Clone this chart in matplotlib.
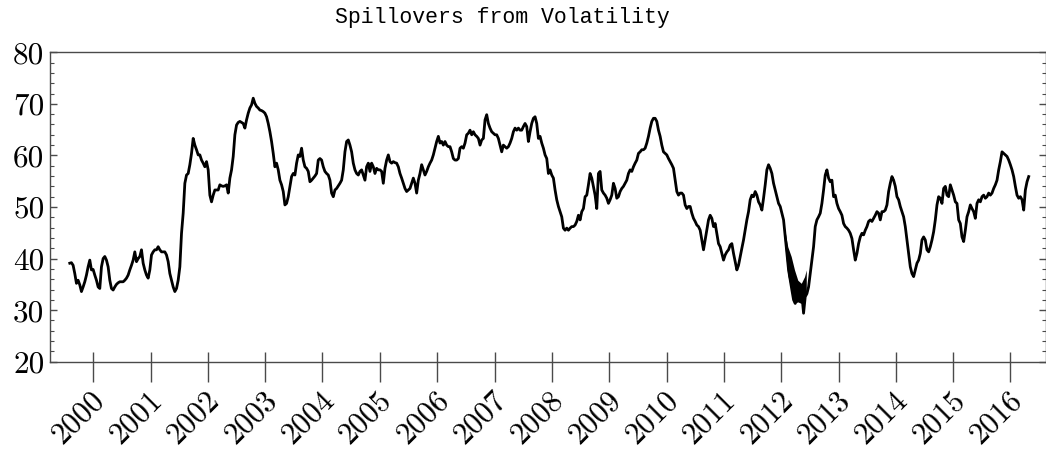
import numpy as np
import pandas as pd
import matplotlib
matplotlib.use("Agg")
import matplotlib.pyplot as plt
import matplotlib.dates as mdates
from matplotlib.transforms import ScaledTranslation

# ---- data ----
title = "Spillovers from Volatility"
start_date = "1999-08-05"
end_date = "2016-04-26"
spill_1999_2008 = [
    39.1, 39.2, 38.7, 37.1, 35.2, 35.8, 34.9, 33.6, 34.5, 35.5, 36.8, 38.4, 39.7, 37.8, 37.9, 36.8,
    35.8, 34.5, 34.2, 38.4, 40.0, 40.4, 39.7, 38.4, 35.8, 34.2, 33.9, 34.5, 35.0, 35.3, 35.5, 35.5,
    35.5, 35.8, 36.2, 36.8, 37.8, 38.7, 39.7, 41.3, 39.4, 40.0, 40.4, 41.7, 39.1, 37.8, 36.8, 36.2,
    37.8, 40.7, 41.3, 41.7, 41.7, 42.3, 41.7, 41.3, 41.3, 41.3, 40.7, 39.4, 37.1, 35.8, 34.5, 33.6,
    34.2, 35.8, 38.4, 44.9, 48.8, 54.6, 56.2, 56.5, 58.2, 60.4, 63.3, 62.0, 61.1, 60.1, 60.1, 59.1,
    58.5, 57.8, 58.8, 57.2, 52.3, 51.0, 52.3, 53.3, 53.3, 53.3, 54.3, 54.1, 54.0, 54.1, 54.3, 52.7,
    55.6, 57.2, 59.8, 64.0, 65.9, 66.4, 66.6, 66.4, 66.2, 65.3, 66.9, 68.2, 69.2, 69.8, 71.1, 70.1,
    69.5, 69.2, 68.8, 68.7, 68.5, 68.2, 67.5, 66.2, 64.6, 62.7, 60.4, 57.8, 58.5, 57.2, 55.2, 54.3,
    53.0, 50.4, 50.7, 52.0, 54.0, 55.9, 56.5, 56.2, 58.5, 60.1, 59.8, 61.4, 59.1, 57.8, 57.5, 56.9,
    54.9, 55.2, 55.6, 56.0, 56.5, 59.1, 59.4, 59.1, 57.8, 56.9, 56.5, 56.2, 55.2, 52.7, 52.0, 53.3,
    53.6, 54.1, 54.6, 55.2, 57.2, 60.7, 62.7, 63.0, 62.0, 60.7, 58.5, 57.2, 56.5, 56.2, 56.9, 57.2,
    56.2, 55.2, 57.8, 58.5, 56.9, 58.5, 57.8, 56.5, 57.5, 57.2, 57.2, 56.9, 54.6, 57.5, 59.1, 60.1,
    58.8, 58.5, 58.8, 58.6, 58.5, 57.8, 56.5, 55.6, 54.6, 53.6, 53.0, 53.3, 53.6, 54.6, 55.6, 54.6,
    52.7, 55.2, 56.5, 58.2, 57.2, 56.2, 56.9, 57.8, 58.5, 59.1, 60.1, 61.4, 62.7, 63.7, 62.4, 62.7,
    62.0, 62.7, 62.0, 61.7, 61.7, 60.7, 59.4, 59.1, 59.1, 59.4, 61.4, 61.7, 61.4, 62.4, 64.0, 64.3,
    64.9, 64.0, 64.6, 64.0, 63.7, 63.3, 62.0, 63.0, 63.3, 66.9, 67.9, 66.2, 65.3, 64.6, 64.3, 64.0,
    64.0, 63.3, 62.0, 60.7, 62.0, 61.7, 61.4, 61.7, 62.4, 63.3, 64.6, 65.3, 64.9, 65.3, 64.9, 64.9,
    65.6, 66.2, 65.6, 62.7, 64.6, 66.2, 67.2, 67.5, 66.2, 63.3, 63.7, 62.4, 61.4, 60.1, 59.4, 56.5,
    57.2,
]
spill_2008_2016 = [
    56.2, 55.6, 53.3, 51.4, 50.1, 49.1, 48.1, 45.9, 45.5, 45.9, 45.5, 45.9, 46.2, 46.2, 46.5, 47.2,
    48.4, 47.5, 49.1, 49.7, 52.0, 52.3, 54.3, 56.5, 55.6, 54.0, 52.3, 49.7, 56.5, 56.9, 53.3, 52.7,
    52.3, 51.7, 50.7, 51.4, 52.3, 54.6, 53.6, 51.7, 52.0, 53.0, 53.6, 54.0, 54.6, 55.2, 56.5, 57.2,
    56.9, 57.8, 58.5, 59.1, 60.4, 60.7, 61.1, 61.1, 61.4, 62.4, 63.7, 65.3, 66.6, 67.2, 67.2, 66.6,
    64.9, 63.7, 62.0, 60.7, 60.4, 60.1, 59.4, 58.8, 58.2, 57.5, 55.2, 53.0, 52.3, 52.7, 52.7, 52.3,
    50.4, 49.7, 50.1, 50.1, 48.8, 47.8, 47.2, 46.5, 46.2, 45.5, 43.6, 41.7, 43.6, 45.5, 47.5, 48.4,
    47.8, 46.2, 46.8, 44.9, 42.9, 42.3, 41.0, 39.7, 40.7, 41.3, 41.7, 42.6, 42.9, 41.0, 39.4, 37.8,
    38.7, 40.4, 42.0, 43.6, 45.5, 47.5, 49.1, 51.4, 52.3, 52.0, 53.0, 52.3, 51.0, 50.4, 49.4, 51.7,
    54.3, 57.2, 58.2, 57.5, 56.5, 54.6, 53.3, 52.0, 50.7, 50.1, 48.8, 47.5, 44.2, 41.0, 37.8, 35.8,
    33.9, 32.0, 31.3, 33.2, 32.0, 32.3, 32.9, 29.4, 32.6, 33.2, 34.5, 37.1, 39.7, 42.3, 46.2, 47.5,
    48.1, 48.8, 50.7, 53.3, 56.2, 57.2, 55.6, 54.9, 55.2, 52.0, 52.3, 50.7, 49.7, 49.1, 48.4, 46.8,
    46.2, 45.9, 45.5, 44.9, 43.9, 41.7, 39.7, 41.0, 42.9, 44.2, 44.9, 44.6, 45.5, 46.2, 47.2, 47.5,
    47.2, 47.8, 48.4, 49.1, 48.8, 47.5, 49.1, 49.1, 49.4, 50.4, 53.0, 54.6, 55.9, 55.2, 54.0, 52.0,
    51.4, 50.1, 49.1, 48.1, 46.2, 43.6, 41.0, 38.4, 37.1, 36.5, 37.8, 39.1, 39.7, 41.0, 43.6, 44.2,
    43.6, 41.7, 41.3, 42.3, 43.6, 45.2, 47.5, 50.4, 52.0, 51.7, 50.7, 53.6, 54.0, 52.3, 52.0, 54.3,
    53.3, 52.3, 51.0, 50.7, 47.5, 46.8, 44.2, 43.3, 45.5, 48.1, 49.1, 50.4, 49.7, 49.1, 47.8, 50.7,
    51.4, 51.0, 52.0, 52.3, 51.7, 52.0, 52.7, 52.3, 52.7, 53.6, 54.3, 55.2, 57.2, 58.8, 60.7, 60.4,
    60.1, 59.8, 59.1, 58.2, 57.2, 55.9, 54.0, 52.3, 51.7, 52.0, 51.4, 49.4, 53.3, 54.9, 55.9,
]
# 2012 high-frequency band (envelope of the rapidly oscillating line)
band_dates = ["2012-01-21", "2012-02-12", "2012-03-05", "2012-03-26",
              "2012-04-16", "2012-05-08", "2012-05-29", "2012-06-09"]
band_hi = [46.2, 42.3, 40.4, 37.8, 35.8, 35.2, 36.5, 37.8]
band_lo = [43.6, 36.8, 33.9, 31.3, 31.6, 31.3, 32.0, 33.6]
years = list(range(2000, 2017))
y_ticks = [20, 30, 40, 50, 60, 70, 80]

values = np.array(spill_1999_2008 + spill_2008_2016)
dates = pd.date_range(start_date, end_date, periods=len(values))

W, H, DPI = 1046, 457, 100
fig = plt.figure(figsize=(W / DPI, H / DPI), dpi=DPI)
ax = fig.add_axes([50 / W, 1 - 361.7 / H, 995.5 / W, 309.4 / H])

ax.plot(dates, values, color="black", lw=2.0, solid_joinstyle="round")
ax.fill_between(pd.to_datetime(band_dates), band_lo, band_hi, color="black", lw=0)

ax.set_ylim(20, 80)
ax.set_xlim(pd.Timestamp("1999-04-01"), pd.Timestamp("2016-08-11"))

spine_c = "#4a4a4a"
for s in ax.spines.values():
    s.set_color(spine_c)
    s.set_linewidth(1.0)

ax.set_yticks(y_ticks)
ax.set_yticks(np.arange(20, 81, 2), minor=True)
ax.set_yticklabels([str(v) for v in y_ticks], fontfamily="cmr10", fontsize=22.5)

year_locs = [pd.Timestamp(f"{y}-01-01") for y in years]
ax.set_xticks(year_locs)
ax.set_xticklabels([str(y) for y in years], fontfamily="cmr10", fontsize=22,
                   rotation=45, ha="right")
ax.xaxis.set_minor_locator(matplotlib.ticker.FixedLocator(mdates.date2num(year_locs)))
ax.xaxis.remove_overlapping_locs = False

ax.tick_params(axis="y", which="major", direction="in", length=5, width=1,
               color=spine_c, left=True, right=True, pad=4)
ax.tick_params(axis="y", which="minor", direction="in", length=3.2, width=0.8,
               color=spine_c, left=True, right=True)
ax.tick_params(axis="x", which="major", direction="out", length=14.4, width=1,
               color=spine_c, pad=3)
ax.tick_params(axis="x", which="minor", direction="in", length=7.2, width=1,
               color=spine_c, top=False)

off = ScaledTranslation(17 / DPI, 0, fig.dpi_scale_trans)
for lab in ax.get_xticklabels():
    lab.set_transform(lab.get_transform() + off)

fig.text(502 / W, 1 - 23 / H, title, ha="center", va="baseline",
         fontfamily="Liberation Mono", fontsize=15.5)

fig.savefig("out.png", dpi=DPI)
